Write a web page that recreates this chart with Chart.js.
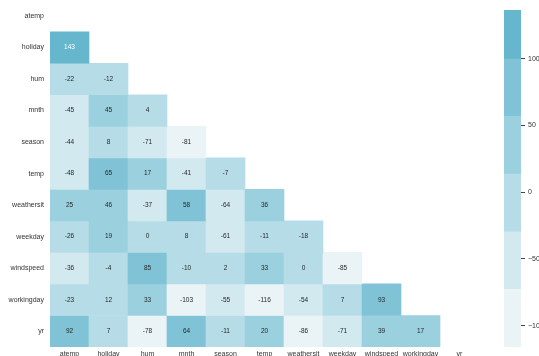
<!DOCTYPE html>
<html>
<head>
<meta charset="utf-8">
<script src="https://cdn.jsdelivr.net/npm/chart.js@4"></script>
<style>
  html, body { margin: 0; padding: 0; background: #fff; overflow: hidden; }
  #heat { position: absolute; left: 0; top: -10px; }
  #bar { position: absolute; left: 490px; top: 0; }
</style>
</head>
<body>
<canvas id="heat" width="485" height="390"></canvas>
<canvas id="bar" width="80" height="356"></canvas>
<script>
// variable names (rows and columns)
const names = ['atemp', 'holiday', 'hum', 'mnth', 'season', 'temp', 'weathersit', 'weekday', 'windspeed', 'workingday', 'yr'];

// lower triangle values, one row per variable (row i has i entries)
const holiday = [143];
const hum = [-22, -12];
const mnth = [-45, 45, 4];
const season = [-44, 8, -71, -81];
const temp = [-48, 65, 17, -41, -7];
const weathersit = [25, 46, -37, 58, -64, 36];
const weekday = [-26, 19, 0, 8, -61, -11, -18];
const windspeed = [-36, -4, 85, -10, 2, 33, 0, -85];
const workingday = [-23, 12, 33, -103, -55, -116, -54, 7, 93];
const yr = [92, 7, -78, 64, -11, 20, -86, -71, 39, 17];
const rows = [[], holiday, hum, mnth, season, temp, weathersit, weekday, windspeed, workingday, yr];

// colour bar: band edges, colours (low to high) and ticks
const bandEdges = [-116, -72.8, -29.7, 13.5, 56.7, 99.8, 143];
const bandColors = ['#eaf4f7', '#d2e9f0', '#b6dde7', '#9bd0df', '#80c3d6', '#66b6cd'];
const cbTicks = [-100, -50, 0, 50, 100];

const FONT = "'Liberation Sans', Arial, sans-serif";

function colorFor(v) {
  for (let k = 0; k < bandColors.length; k++) {
    if (v <= bandEdges[k + 1]) return bandColors[k];
  }
  return bandColors[bandColors.length - 1];
}

const datasets = rows.map((vals, i) => ({
  data: vals.map((v, j) => ({ x: names[j], y: [i - 0.5, i + 0.5], v: v })),
  backgroundColor: vals.map(v => colorFor(v)),
  borderWidth: 0,
  grouped: false,
  barPercentage: 1,
  categoryPercentage: 1
}));

// write each value in the middle of its cell
const cellText = {
  id: 'cellText',
  afterDatasetsDraw(chart) {
    const ctx = chart.ctx;
    ctx.save();
    ctx.font = '6.5px ' + FONT;
    ctx.textAlign = 'center';
    ctx.textBaseline = 'middle';
    chart.data.datasets.forEach((ds, di) => {
      chart.getDatasetMeta(di).data.forEach((el, k) => {
        const v = ds.data[k].v;
        const c = el.getCenterPoint();
        ctx.fillStyle = v > bandEdges[5] ? '#ffffff' : '#262626';
        ctx.fillText(String(v), c.x, c.y);
      });
    });
    ctx.restore();
  }
};

new Chart(document.getElementById('heat'), {
  type: 'bar',
  data: { labels: names, datasets: datasets },
  options: {
    responsive: false,
    devicePixelRatio: 1,
    animation: false,
    layout: { padding: { top: 1, right: 6, left: 0, bottom: 0 } },
    plugins: { legend: { display: false }, tooltip: { enabled: false } },
    scales: {
      x: {
        type: 'category',
        grid: { display: false, drawTicks: false },
        border: { display: false },
        ticks: { color: '#333', font: { family: FONT, size: 7 }, padding: 3, maxRotation: 0, autoSkip: false },
        afterFit: s => { s.height = 33; }
      },
      y: {
        type: 'linear',
        reverse: true,
        min: -0.5,
        max: 10.5,
        grid: { display: false, drawTicks: false },
        border: { display: false },
        afterBuildTicks: s => { s.ticks = names.map((_, i) => ({ value: i })); },
        ticks: {
          color: '#333',
          font: { family: FONT, size: 7 },
          padding: 6,
          callback: v => names[v]
        },
        afterFit: s => { s.width = 50; }
      }
    }
  },
  plugins: [cellText]
});

new Chart(document.getElementById('bar'), {
  type: 'bar',
  data: {
    labels: ['cb'],
    datasets: bandColors.map((c, k) => ({
      data: [[bandEdges[k], bandEdges[k + 1]]],
      backgroundColor: c,
      borderWidth: 0,
      grouped: false,
      barPercentage: 1,
      categoryPercentage: 1,
      clip: 0
    }))
  },
  options: {
    responsive: false,
    devicePixelRatio: 1,
    animation: false,
    layout: { padding: { top: 10, bottom: 9, left: 14, right: 0 } },
    plugins: { legend: { display: false }, tooltip: { enabled: false } },
    scales: {
      x: { display: false },
      y: {
        position: 'right',
        min: -116,
        max: 136.5,
        border: { display: false },
        grid: { display: true, drawOnChartArea: false, drawTicks: true, tickLength: 4, color: '#444', lineWidth: 1 },
        afterBuildTicks: s => { s.ticks = cbTicks.map(v => ({ value: v })); },
        ticks: {
          color: '#333',
          font: { family: FONT, size: 7 },
          padding: 3,
          callback: v => String(v).replace('-', '\u2212')
        },
        afterFit: s => { s.width = 49; }
      }
    }
  }
});
</script>
</body>
</html>
